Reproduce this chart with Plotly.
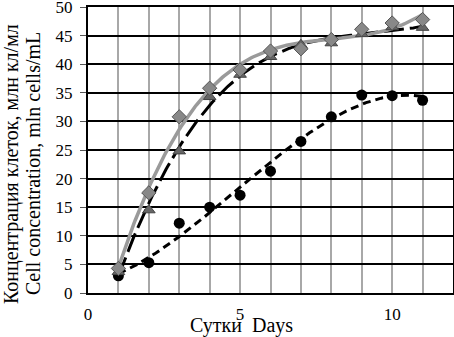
import numpy as np
import plotly.graph_objects as go

days = [1, 2, 3, 4, 5, 6, 7, 8, 9, 10, 11]
diamond_vals = [4.3, 17.5, 30.8, 35.8, 39.0, 42.3, 42.7, 44.3, 46.1, 47.2, 47.8]
triangle_vals = [3.7, 14.5, 24.8, 34.3, 38.2, 41.3, 43.4, 43.7, 45.3, 46.5, 46.4]
circle_vals = [3.0, 5.3, 12.2, 15.0, 17.1, 21.3, 26.5, 30.8, 34.6, 34.5, 33.7]

x_ticks = [0, 5, 10]
y_ticks = [0, 5, 10, 15, 20, 25, 30, 35, 40, 45, 50]
y_title_ru = "Концентрация клеток, млн кл/мл"
y_title_en = "Cell concentration, mln cells/mL"
x_title = "Сутки  Days"

FONT = "Times New Roman, Liberation Serif, serif"

xs = np.linspace(1, 11, 200)
def trend(y, deg):
    c = np.polyfit(days, y, deg)
    return np.polyval(c, xs)

fig = go.Figure()
fig.add_trace(go.Scatter(x=xs, y=trend(circle_vals, 3), mode="lines",
                         line=dict(color="black", width=3, dash="8px,5px"), showlegend=False))
fig.add_trace(go.Scatter(x=xs, y=trend(triangle_vals, 3), mode="lines",
                         line=dict(color="black", width=3, dash="20px,6px"), showlegend=False))
fig.add_trace(go.Scatter(x=xs, y=trend(diamond_vals, 3), mode="lines",
                         line=dict(color="#9a9a9a", width=3.5), showlegend=False))
fig.add_trace(go.Scatter(x=days, y=circle_vals, mode="markers",
                         marker=dict(symbol="circle", size=11, color="black"), showlegend=False))
fig.add_trace(go.Scatter(x=days, y=triangle_vals, mode="markers",
                         marker=dict(symbol="triangle-up", size=11, color="#666666",
                                     line=dict(color="#444444", width=1)), showlegend=False))
fig.add_trace(go.Scatter(x=days, y=diamond_vals, mode="markers",
                         marker=dict(symbol="diamond", size=11, color="#888888",
                                     line=dict(color="#555555", width=1)), showlegend=False))

fig.update_layout(
    width=454, height=337,
    margin=dict(l=88, r=1, t=7, b=44, autoexpand=False),
    paper_bgcolor="white", plot_bgcolor="white",
    font=dict(family=FONT, size=17, color="black"),
    xaxis=dict(range=[0, 12], tickvals=x_ticks, ticktext=[str(v) for v in x_ticks],
               showgrid=True, gridcolor="#a8a8a8", gridwidth=2,
               minor=dict(dtick=1, tick0=0, showgrid=True, gridcolor="#a8a8a8", gridwidth=2),
               showline=True, linecolor="black", linewidth=2, mirror=True,
               ticks="", zeroline=False, tickfont=dict(family=FONT, size=17),
               ticklabelstandoff=5,
               automargin=False, ticklabeloverflow="allow"),
    yaxis=dict(range=[0, 50], tickvals=y_ticks, showgrid=True, gridcolor="black", gridwidth=1.5,
               showline=True, linecolor="black", linewidth=2, mirror=True,
               ticks="outside", ticklen=6, tickcolor="#555555", zeroline=False,
               tickfont=dict(family=FONT, size=17), ticklabelstandoff=4,
               automargin=False, ticklabeloverflow="allow"),
    annotations=[
        dict(text=x_title, xref="paper", yref="paper", x=(241 - 88) / 365, y=-(325.5 - 293) / 286,
             xanchor="center", yanchor="middle", showarrow=False, font=dict(family=FONT, size=20)),
        dict(text=y_title_ru, xref="paper", yref="paper", x=-(88 - 11) / 365, y=(293 - 164) / 286,
             xanchor="center", yanchor="middle", textangle=-90, showarrow=False,
             font=dict(family=FONT, size=20)),
        dict(text=y_title_en, xref="paper", yref="paper", x=-(88 - 33) / 365, y=(293 - 164) / 286,
             xanchor="center", yanchor="middle", textangle=-90, showarrow=False,
             font=dict(family=FONT, size=20)),
    ],
)
fig.write_html("out.html", config={"displayModeBar": False},
               post_script="document.body.style.margin='0';document.body.style.overflow='hidden';")
